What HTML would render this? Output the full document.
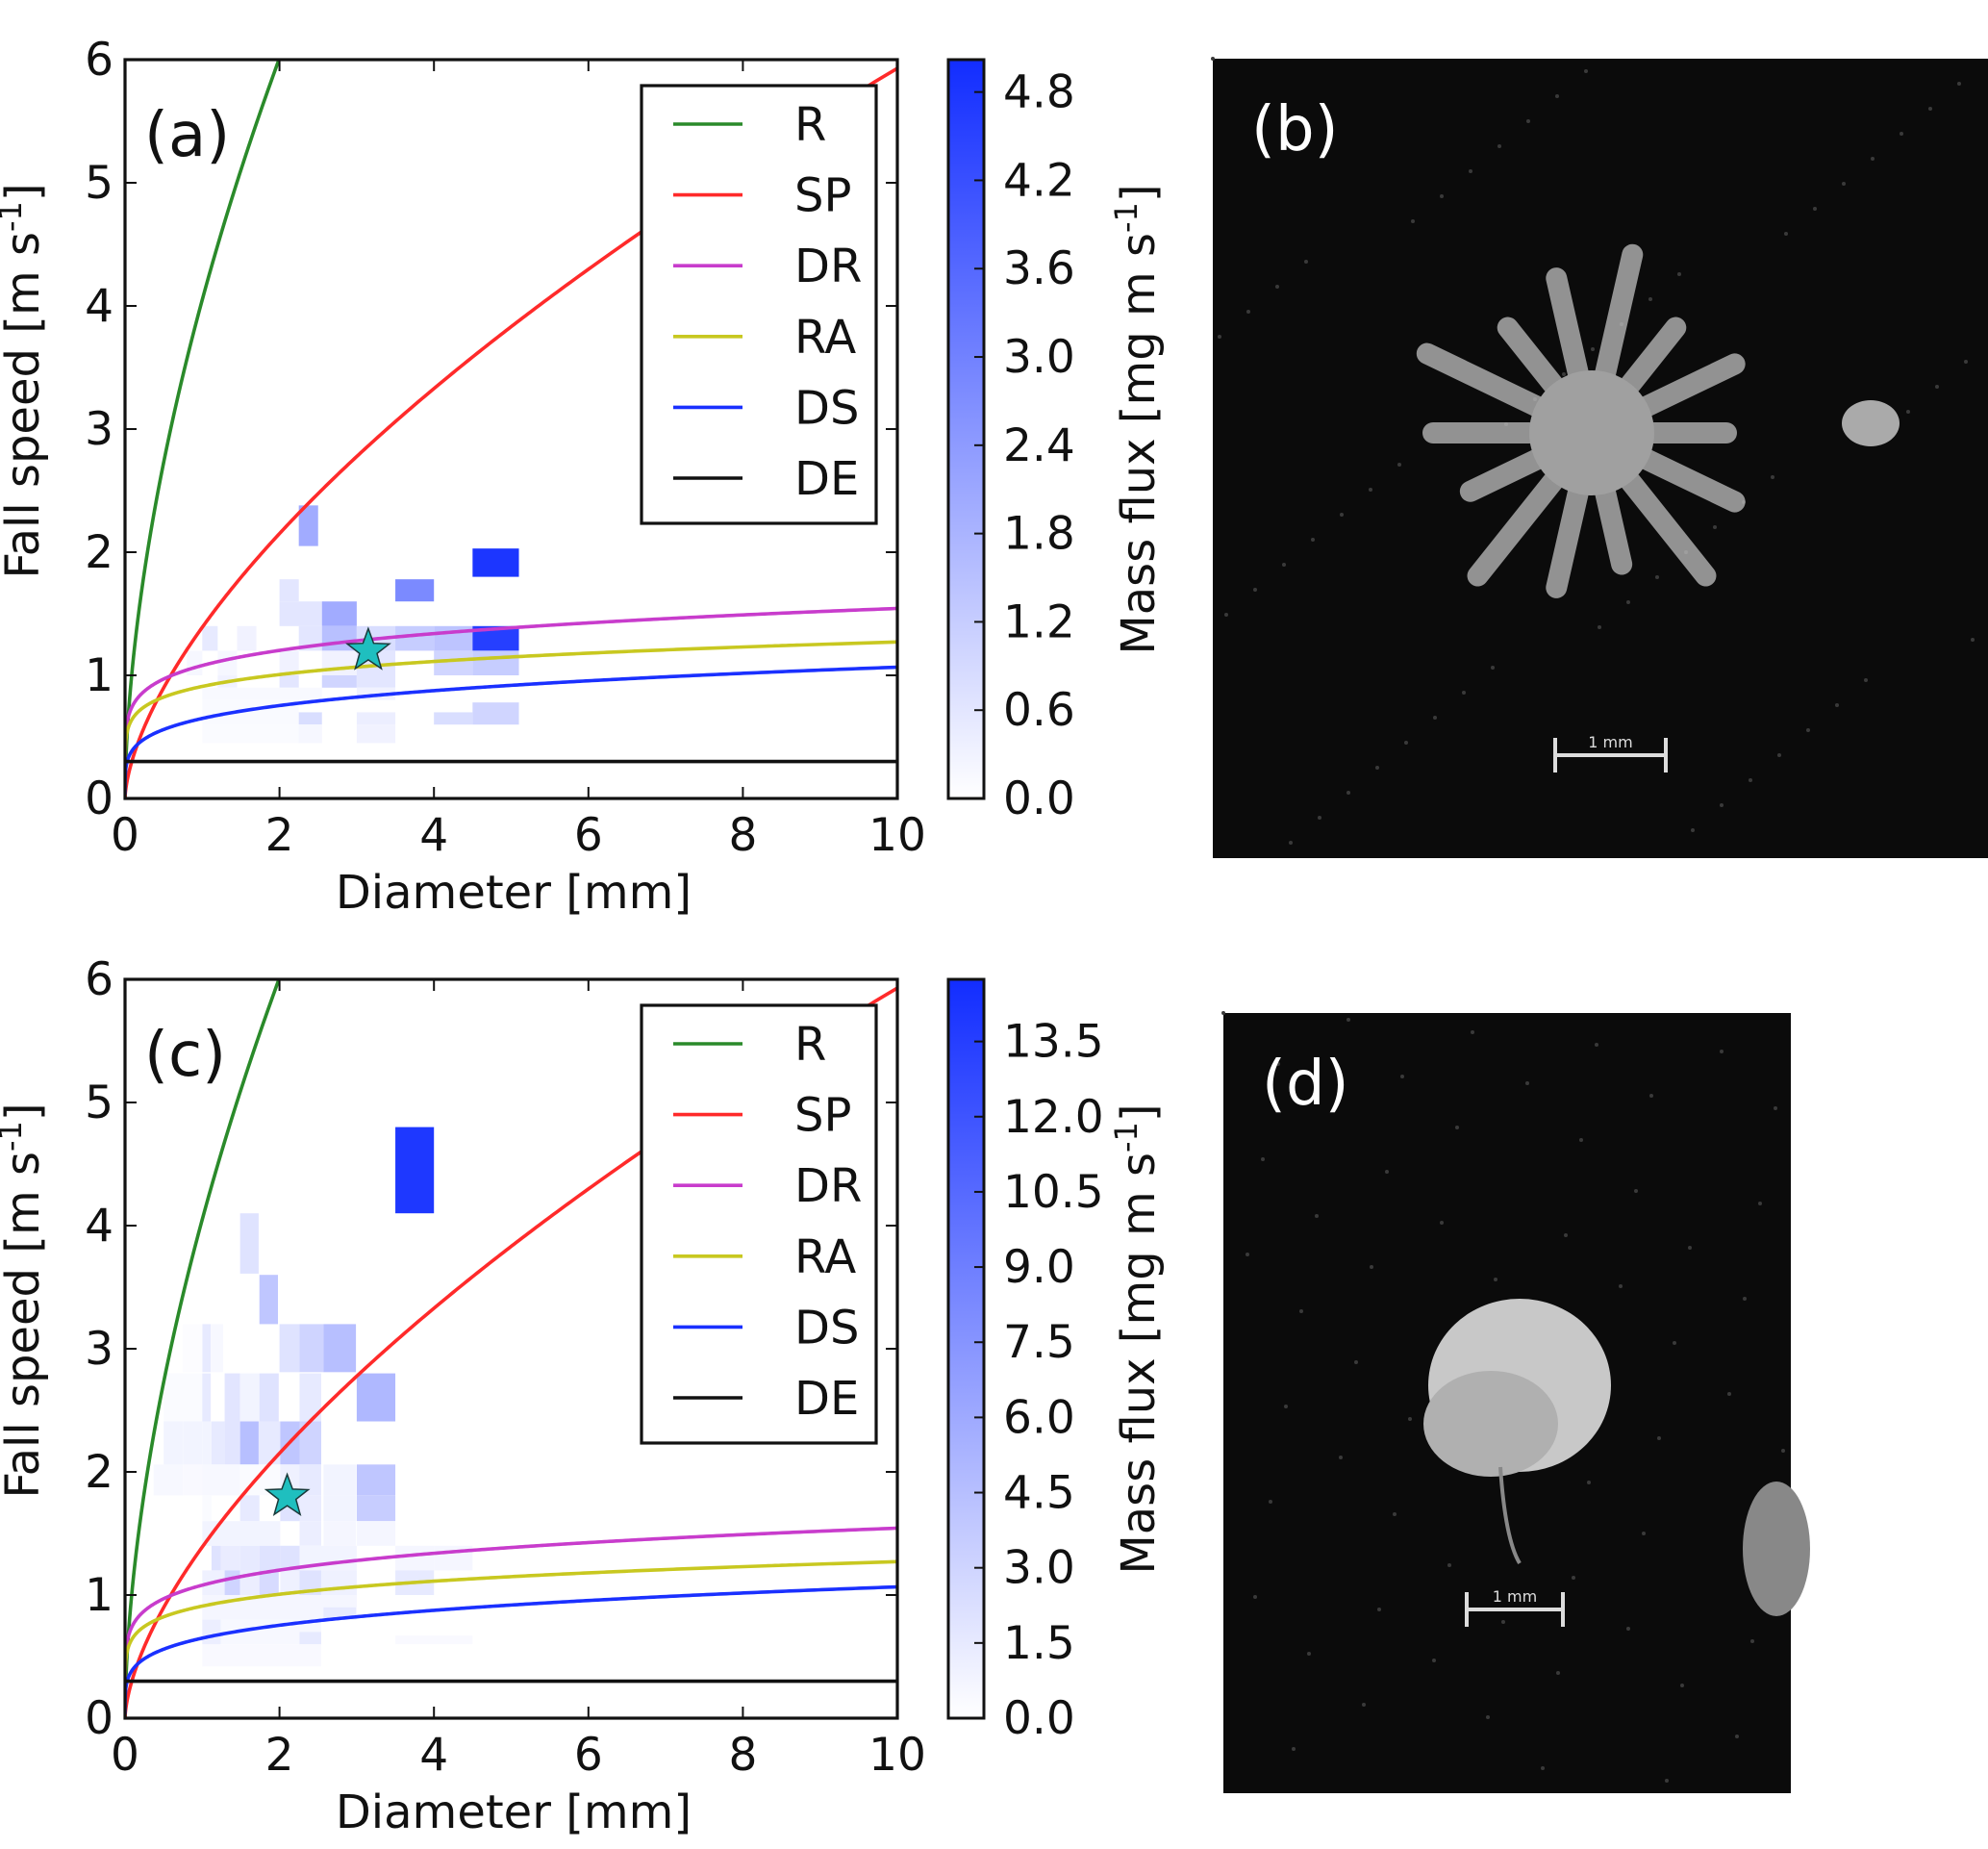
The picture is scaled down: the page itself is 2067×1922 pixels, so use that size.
<!DOCTYPE html>
<html><head><meta charset="utf-8">
<style>
html,body{margin:0;padding:0;background:#fff;}
svg{display:block;}
text{font-family:"DejaVu Sans","Liberation Sans",sans-serif;}
</style></head>
<body>
<svg id="fig" width="2067" height="1922" viewBox="0 0 2067 1922" xmlns="http://www.w3.org/2000/svg"></svg>
<script>
// ---- data ----
const xTicks = [0,2,4,6,8,10];
const yTicks = [0,1,2,3,4,5,6];
const seriesNames = ["R","SP","DR","RA","DS","DE"];
const seriesColors = ["#2a8a2a","#ff2a2a","#c83ccc","#c8c820","#1a30ff","#111111"];
const seriesA = [4.05, 1.39, 1.08, 0.91, 0.65, 0.30];   // coefficient a in v = a*D^b
const seriesB = [0.57, 0.63, 0.155, 0.145, 0.215, 0.0];  // exponent b
const cbTicksA = [0.0,0.6,1.2,1.8,2.4,3.0,3.6,4.2,4.8];
const cbTicksC = [0.0,1.5,3.0,4.5,6.0,7.5,9.0,10.5,12.0,13.5];
const vmaxA = 5.02;
const vmaxC = 14.74;
const starA = [3.15, 1.2];
const starC = [2.1, 1.8];
// cells: [d0, d1, v0, v1, massflux]
const cellsA = [
[2.25,2.5,2.05,2.38,2.0],[4.5,5.1,1.8,2.03,4.8],[3.5,4.0,1.6,1.78,2.8],[2.0,2.25,1.6,1.78,0.6],
[2.0,2.55,1.4,1.6,0.6],[2.55,3.0,1.4,1.6,2.0],
[1.0,1.2,1.2,1.4,0.5],[1.45,1.7,1.2,1.4,0.3],[2.25,2.55,1.2,1.4,0.6],[2.55,3.0,1.2,1.4,1.5],[3.0,3.5,1.2,1.4,0.8],[3.5,4.0,1.2,1.4,1.2],[4.0,4.5,1.2,1.4,1.4],[4.5,5.1,1.2,1.4,4.6],
[0.8,1.0,1.0,1.2,0.2],[1.2,1.45,1.0,1.2,0.2],[2.0,2.25,1.0,1.2,0.3],[2.55,3.0,1.0,1.2,0.3],[3.0,3.5,1.0,1.2,0.6],[4.0,4.5,1.0,1.2,1.0],[4.5,5.1,1.0,1.2,1.2],
[1.2,1.45,0.9,1.0,0.3],[2.0,2.25,0.9,1.0,0.6],[2.55,3.0,0.9,1.0,1.0],[3.0,3.5,0.9,1.0,0.6],
[1.0,2.55,0.8,0.9,0.15],[3.0,3.5,0.8,0.9,0.3],
[1.0,2.25,0.6,0.8,0.12],[2.25,2.55,0.6,0.7,0.8],[4.0,4.5,0.6,0.7,0.8],[4.5,5.1,0.6,0.78,1.0],[3.0,3.5,0.6,0.7,0.4],
[1.0,2.55,0.45,0.6,0.1],[3.0,3.5,0.45,0.6,0.3],[2.25,2.55,0.45,0.6,0.2]
];
const cellsC = [
[3.5,4.0,4.1,4.8,14.0],[1.49,1.73,3.61,4.1,2.0],[1.74,1.98,3.2,3.6,4.0],
[1.0,1.11,2.81,3.2,1.5],[1.11,1.27,2.81,3.2,0.5],[2.0,2.26,2.81,3.2,2.0],[2.26,2.57,2.81,3.2,3.0],[2.57,2.99,2.81,3.2,4.5],[0.75,1.0,2.81,3.2,0.2],
[0.5,1.0,2.41,2.8,0.3],[1.0,1.11,2.41,2.8,1.5],[1.29,1.49,2.41,2.8,1.8],[1.49,1.74,2.41,2.8,0.8],[1.74,1.99,2.41,2.8,2.0],[2.26,2.54,2.41,2.8,1.5],[3.0,3.5,2.41,2.8,5.0],
[0.5,0.75,2.06,2.41,0.8],[0.75,1.0,2.06,2.41,0.8],[1.0,1.12,2.06,2.41,0.8],[1.12,1.29,2.06,2.41,1.5],[1.29,1.49,2.06,2.41,1.8],[1.49,1.73,2.06,2.41,4.5],[1.73,2.01,2.06,2.41,1.5],[2.01,2.26,2.06,2.41,4.0],[2.26,2.54,2.06,2.41,3.0],
[0.37,0.75,1.81,2.06,0.5],[0.75,1.0,1.81,2.06,0.4],[1.0,1.49,1.81,2.06,0.5],[1.49,2.01,1.81,2.06,0.3],[2.01,2.26,1.81,2.06,1.0],[2.26,2.54,1.81,2.06,1.5],[2.57,2.99,1.81,2.06,0.8],[3.0,3.5,1.81,2.06,4.0],
[1.0,1.12,1.6,1.81,0.3],[1.49,1.74,1.6,1.81,1.5],[2.01,2.26,1.6,1.81,2.0],[2.26,2.54,1.6,1.81,1.3],[2.57,2.99,1.6,1.81,0.8],[3.0,3.5,1.6,1.81,3.5],
[1.0,2.01,1.4,1.6,0.8],[2.26,2.54,1.4,1.6,1.2],[2.57,2.99,1.4,1.6,0.6],[3.0,3.5,1.4,1.6,0.6],
[1.12,1.24,1.2,1.4,2.0],[1.24,1.49,1.2,1.4,1.3],[1.49,1.74,1.2,1.4,1.5],[1.74,2.01,1.2,1.4,2.0],[2.01,2.26,1.2,1.4,2.0],[2.26,3.0,1.2,1.4,0.8],[3.5,4.0,1.2,1.4,0.6],[4.0,4.5,1.2,1.4,0.6],
[1.0,1.29,1.0,1.2,1.0],[1.29,1.49,1.0,1.2,3.0],[1.49,1.74,1.0,1.2,1.2],[1.74,1.99,1.0,1.2,2.5],[2.01,2.26,1.0,1.2,1.0],[2.26,2.54,1.0,1.2,2.0],[2.54,3.0,1.0,1.2,1.0],[3.5,4.0,1.0,1.2,1.5],
[1.0,3.0,0.8,1.0,0.6],[2.57,2.99,0.8,0.9,1.5],
[1.0,1.24,0.6,0.8,1.2],[1.24,2.54,0.6,0.8,0.5],[2.26,2.54,0.6,0.7,1.5],[3.5,4.5,0.6,0.67,0.4],
[1.0,2.54,0.42,0.6,0.4]
];

const NS = "http://www.w3.org/2000/svg";
const fig = document.getElementById("fig");
function mk(tag, attrs, parent, txt){
  const e = document.createElementNS(NS, tag);
  for (const k in attrs) e.setAttribute(k, attrs[k]);
  if (txt !== undefined) e.textContent = txt;
  (parent || fig).appendChild(e);
  return e;
}
function cmap(t){
  t = Math.max(0, Math.min(1, t));
  const r = Math.round(255 + (18-255)*t), g = Math.round(255 + (45-255)*t), b = 255;
  return `rgb(${r},${g},${b})`;
}

function panel(id, label, top, cells, vmax, cbTicks, star){
  const X0 = 130, X1 = 933, Y6 = top, Y0 = top + 768;
  const sx = d => X0 + (X1 - X0) * d / 10;
  const sy = v => Y0 - (Y0 - Y6) * v / 6;
  const g = mk("g", {}, fig);
  
  
  const clipId = "clip" + id;
  const cp = mk("clipPath", {id: clipId}, g);
  mk("rect", {x: X0, y: Y6, width: X1 - X0, height: Y0 - Y6}, cp);
  const plot = mk("g", {"clip-path": `url(#${clipId})`}, g);
  cells.forEach((c, i) => {
    const r = mk("rect", {x: sx(c[0]), y: sy(c[3]), width: sx(c[1]) - sx(c[0]), height: sy(c[2]) - sy(c[3]), fill: cmap(c[4] / vmax)}, plot);
    
    
  });
  seriesNames.forEach((nm, i) => {
    let d = "";
    for (let k = 0; k <= 400; k++) {
      const D = 10 * Math.pow(k / 400, 2);
      const v = seriesA[i] * Math.pow(Math.max(D, 1e-6), seriesB[i]);
      d += (k ? "L" : "M") + sx(D).toFixed(2) + "," + sy(Math.min(v, 7)).toFixed(2);
    }
    const p = mk("path", {d: d, fill: "none", stroke: seriesColors[i], "stroke-width": 3.6}, plot);
    
    
  });
  const cx = sx(star[0]), cy = sy(star[1]), R = 23, r2 = 9.5;
  let sp = "";
  for (let k = 0; k < 10; k++) {
    const a = -Math.PI / 2 + k * Math.PI / 5, rr = k % 2 ? r2 : R;
    sp += (cx + rr * Math.cos(a)).toFixed(1) + "," + (cy + rr * Math.sin(a)).toFixed(1) + " ";
  }
  const st = mk("polygon", {points: sp, fill: "#1fbfbf", stroke: "#1a3a3a", "stroke-width": 1.5}, g);
  
  
  const fr = mk("rect", {x: X0, y: Y6, width: X1 - X0, height: Y0 - Y6, fill: "none", stroke: "#111", "stroke-width": 3.2}, g);
  
  
  xTicks.forEach(t => {
    mk("line", {x1: sx(t), x2: sx(t), y1: Y0, y2: Y0 - 12, stroke: "#111", "stroke-width": 2}, g);
    mk("line", {x1: sx(t), x2: sx(t), y1: Y6, y2: Y6 + 12, stroke: "#111", "stroke-width": 2}, g);
    const tx = mk("text", {x: sx(t), y: Y0 + 54, "font-size": 47, "text-anchor": "middle", fill: "#111"}, g, String(t));
    
    
  });
  yTicks.forEach(t => {
    mk("line", {x1: X0, x2: X0 + 12, y1: sy(t), y2: sy(t), stroke: "#111", "stroke-width": 2}, g);
    mk("line", {x1: X1, x2: X1 - 12, y1: sy(t), y2: sy(t), stroke: "#111", "stroke-width": 2}, g);
    const ty = mk("text", {x: X0 - 12, y: sy(t) + 16, "font-size": 47, "text-anchor": "end", fill: "#111"}, g, String(t));
    
    
  });
  const xl = mk("text", {x: 534, y: Y0 + 114, "font-size": 48, "text-anchor": "middle", fill: "#111"}, g, "Diameter [mm]");
  
  
  const yl = mk("text", {x: 0, y: 0, "font-size": 48, "text-anchor": "middle", fill: "#111", transform: `translate(40,${(Y0 + Y6) / 2 - 50}) rotate(-90)`}, g);
  yl.innerHTML = 'Fall speed [m s<tspan dy="-18" font-size="32">-1</tspan><tspan dy="18">]</tspan>';
  
  
  const pl = mk("text", {x: 150, y: Y6 + 100, "font-size": 64, fill: "#111"}, g, label);
  
  
  const lg = mk("g", {}, g);
  
  
  mk("rect", {x: 667, y: Y6 + 27, width: 244, height: 455, fill: "#fff", stroke: "#111", "stroke-width": 3.2}, lg);
  seriesNames.forEach((nm, i) => {
    const yy = Y6 + 67 + i * 73.6;
    const le = mk("g", {}, lg);
    
    
    mk("line", {x1: 700, x2: 772, y1: yy, y2: yy, stroke: seriesColors[i], "stroke-width": 3.6}, le);
    mk("text", {x: 826, y: yy + 17, "font-size": 48, fill: "#111"}, le, nm);
  });
  const CB0 = 986, CB1 = 1023;
  const cb = mk("g", {}, g);
  
  
  const gid = "grad" + id;
  const lgd = mk("linearGradient", {id: gid, x1: 0, y1: 1, x2: 0, y2: 0}, cb);
  mk("stop", {offset: 0, "stop-color": cmap(0)}, lgd);
  mk("stop", {offset: 1, "stop-color": cmap(1)}, lgd);
  mk("rect", {x: CB0, y: Y6, width: CB1 - CB0, height: Y0 - Y6, fill: `url(#${gid})`, stroke: "#111", "stroke-width": 3}, cb);
  const cy2 = v => Y0 - (Y0 - Y6) * v / vmax;
  cbTicks.forEach(t => {
    mk("line", {x1: CB1 - 10, x2: CB1, y1: cy2(t), y2: cy2(t), stroke: "#111", "stroke-width": 2}, cb);
    const ct = mk("text", {x: CB1 + 20, y: cy2(t) + 16, "font-size": 47, fill: "#111"}, cb, t.toFixed(1));
    
    
  });
  const cl = mk("text", {x: 0, y: 0, "font-size": 48, "text-anchor": "middle", fill: "#111", transform: `translate(1200,${(Y0 + Y6) / 2 - 10}) rotate(-90)`}, cb);
  cl.innerHTML = 'Mass flux [mg m s<tspan dy="-18" font-size="32">-1</tspan><tspan dy="18">]</tspan>';
  
  
}
panel("a", "(a)", 62, cellsA, vmaxA, cbTicksA, starA);
panel("c", "(c)", 1018, cellsC, vmaxC, cbTicksC, starC);

function photo(id, x, y, w, h, label, cxp, cyp, big){
  const g = mk("g", {}, fig);
  
  
  mk("rect", {x: x, y: y, width: w, height: h, fill: "#0b0b0b"}, g);
  for (let k = 0; k < 60; k++) {
    mk("circle", {cx: x + (k * 97) % w, cy: y + (k * 211) % h, r: 2, fill: "#3a3a3a"}, g);
  }
  if (big) {
    for (let k = 0; k < 14; k++) {
      const a = k * Math.PI * 2 / 14;
      const L = 140 + (k % 3) * 25;
      mk("line", {x1: cxp, y1: cyp, x2: cxp + L * Math.cos(a), y2: cyp + L * Math.sin(a), stroke: "#c0c0c0", "stroke-width": 22, "stroke-linecap": "round", opacity: 0.75}, g);
    }
    mk("circle", {cx: cxp, cy: cyp, r: 65, fill: "#a0a0a0"}, g);
    mk("ellipse", {cx: cxp + 290, cy: cyp - 10, rx: 30, ry: 24, fill: "#aaa"}, g);
  } else {
    mk("ellipse", {cx: cxp, cy: cyp, rx: 95, ry: 90, fill: "#c8c8c8"}, g);
    mk("ellipse", {cx: cxp - 30, cy: cyp + 40, rx: 70, ry: 55, fill: "#b0b0b0"}, g);
    mk("path", {d: `M${cxp - 20},${cyp + 85} Q${cxp - 15},${cyp + 160} ${cxp},${cyp + 185}`, stroke: "#888", "stroke-width": 4, fill: "none"}, g);
    mk("ellipse", {cx: x + w - 15, cy: cyp + 170, rx: 35, ry: 70, fill: "#888"}, g);
  }
  const sb = big ? [1617, 1732, 785] : [1525, 1625, 1673];
  mk("line", {x1: sb[0], x2: sb[1], y1: sb[2], y2: sb[2], stroke: "#ddd", "stroke-width": 4}, g);
  mk("line", {x1: sb[0], x2: sb[0], y1: sb[2] - 18, y2: sb[2] + 18, stroke: "#ddd", "stroke-width": 4}, g);
  mk("line", {x1: sb[1], x2: sb[1], y1: sb[2] - 18, y2: sb[2] + 18, stroke: "#ddd", "stroke-width": 4}, g);
  const sbt = mk("text", {x: (sb[0] + sb[1]) / 2, y: sb[2] - 8, "font-size": 16, "text-anchor": "middle", fill: "#ddd", "font-family": "Liberation Serif, serif"}, g, "1 mm");
  
  
  const t = mk("text", {x: x + 40, y: y + 95, "font-size": 64, fill: "#fff"}, g, label);
  
  
}
photo("b", 1261, 61, 806, 831, "(b)", 1655, 450, true);
photo("d", 1272, 1053, 590, 811, "(d)", 1580, 1440, false);
</script>
</body></html>
